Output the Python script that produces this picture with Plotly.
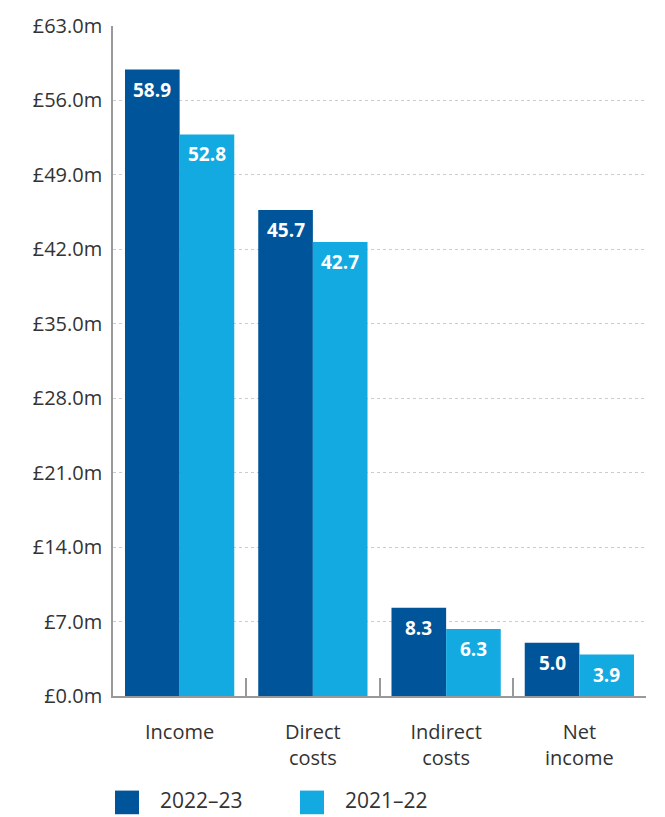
import plotly.graph_objects as go

categories = ["Income", "Direct<br>costs", "Indirect<br>costs", "Net<br>income"]
series_names = ["2022–23", "2021–22"]
values_2022_23 = [58.9, 45.7, 8.3, 5.0]
values_2021_22 = [52.8, 42.7, 6.3, 3.9]
y_ticks = [0, 7, 14, 21, 28, 35, 42, 49, 56, 63]
y_tick_labels = [f"£{v:.1f}m" for v in y_ticks]

DARK = "#00559a"
LIGHT = "#13a9e1"
FONT = "Open Sans"
TXT = "#333333"

fig = go.Figure()
for name, vals, col in [(series_names[0], values_2022_23, DARK), (series_names[1], values_2021_22, LIGHT)]:
    fig.add_trace(go.Bar(x=categories, y=vals, name=name, marker=dict(color=col, line=dict(width=0)),
                         showlegend=False))

bargap = 0.18
half = (1 - bargap) / 4
annotations = []
for i in range(len(categories)):
    for vals, off in [(values_2022_23, -half), (values_2021_22, half)]:
        annotations.append(dict(x=i + off, y=vals[i], xref="x", yref="y", text=f"<b>{vals[i]:.1f}</b>",
                                showarrow=False, yshift=-20, font=dict(family=FONT, size=19, color="white")))

# legend (drawn manually for large swatches)
W, H = 665, 817
ml, mr, mt, mb = 113, 19, 16, 121
pw, ph = W - ml - mr, H - mt - mb
def px(x): return (x - ml) / pw
def py(y): return (H - mb - y) / ph

shapes = []
for (x0, tx, name, col) in [(115, 158, series_names[0], DARK), (300, 343, series_names[1], LIGHT)]:
    shapes.append(dict(type="rect", xref="paper", yref="paper", x0=px(x0), x1=px(x0 + 24),
                       y0=py(816), y1=py(792), fillcolor=col, line=dict(width=0)))
    annotations.append(dict(x=px(tx), y=py(802), xref="paper", yref="paper", text=name, showarrow=False,
                            xanchor="left", yanchor="middle", font=dict(family=FONT, size=21, color=TXT)))

fig.update_layout(
    width=W, height=H, margin=dict(l=ml, r=mr, t=mt, b=mb),
    barmode="group", bargap=bargap, bargroupgap=0,
    plot_bgcolor="white", paper_bgcolor="white",
    font=dict(family=FONT, color=TXT),
    showlegend=False,
    annotations=annotations, shapes=shapes,
)
fig.update_xaxes(showline=True, linecolor="#999999", linewidth=1.5, ticks="inside", tickson="boundaries",
                 ticklen=18, tickcolor="#999999", tickwidth=1.5, showgrid=False,
                 tickfont=dict(family=FONT, size=20, color=TXT), ticklabelstandoff=17)
fig.update_yaxes(range=[0, 63], tickmode="array", tickvals=y_ticks, ticktext=y_tick_labels,
                 showline=True, linecolor="#999999", linewidth=1.5, zeroline=False,
                 showgrid=True, gridcolor="#cccccc", griddash="dot", gridwidth=1,
                 tickfont=dict(family=FONT, size=20, color=TXT), ticks="", ticklabelstandoff=5)

fig.write_html("out.html")
